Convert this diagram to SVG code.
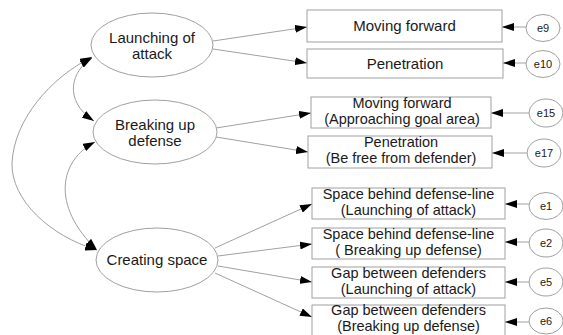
<svg xmlns="http://www.w3.org/2000/svg" width="563" height="335" viewBox="0 0 563 335">
<style>
.shape{fill:#fff;stroke:#a0a0a0;stroke-width:1}
.conn{fill:none;stroke:#a0a0a0;stroke-width:1}
.lbl{font-family:"Liberation Sans",Arial,sans-serif;font-size:15px;fill:#1a1a1a;text-anchor:middle}
.lbl2{font-family:"Liberation Sans",Arial,sans-serif;font-size:14.5px;fill:#1a1a1a;text-anchor:middle}
.err{font-family:"Liberation Sans",Arial,sans-serif;font-size:11px;fill:#1a1a1a;text-anchor:middle}
</style>
<defs>
<marker id="ah" viewBox="0 0 12 8" refX="12" refY="4" markerWidth="12" markerHeight="8" markerUnits="userSpaceOnUse" orient="auto-start-reverse">
<path d="M0,0 L12,4 L0,8 z" fill="#000"/>
</marker>
</defs>
<rect width="563" height="335" fill="#fff"/>
<g id="connectors">
<line class="conn" x1="213" y1="41" x2="307" y2="27" marker-end="url(#ah)"/>
<line class="conn" x1="213" y1="49" x2="307" y2="63" marker-end="url(#ah)"/>
<line class="conn" x1="216" y1="128" x2="311" y2="113" marker-end="url(#ah)"/>
<line class="conn" x1="216" y1="137" x2="308" y2="152" marker-end="url(#ah)"/>
<line class="conn" x1="215" y1="248" x2="312" y2="204" marker-end="url(#ah)"/>
<line class="conn" x1="218" y1="256" x2="312" y2="244" marker-end="url(#ah)"/>
<line class="conn" x1="218" y1="266" x2="312" y2="282" marker-end="url(#ah)"/>
<line class="conn" x1="215" y1="273" x2="312" y2="317" marker-end="url(#ah)"/>
<line class="conn" x1="526" y1="27" x2="502" y2="27" marker-end="url(#ah)"/>
<line class="conn" x1="526" y1="63" x2="503" y2="63" marker-end="url(#ah)"/>
<line class="conn" x1="529" y1="113" x2="491" y2="113" marker-end="url(#ah)"/>
<line class="conn" x1="527" y1="153" x2="492" y2="153" marker-end="url(#ah)"/>
<line class="conn" x1="529" y1="204" x2="505" y2="204" marker-end="url(#ah)"/>
<line class="conn" x1="529" y1="242" x2="505" y2="242" marker-end="url(#ah)"/>
<line class="conn" x1="529" y1="282" x2="505" y2="282" marker-end="url(#ah)"/>
<line class="conn" x1="529" y1="322" x2="505" y2="322" marker-end="url(#ah)"/>
<path class="conn" d="M92,58 C72,70 62,100 94,121" marker-start="url(#ah)" marker-end="url(#ah)"/>
<path class="conn" d="M92,57 C50,78 14,120 12,163 C11,200 50,236 97,250" marker-start="url(#ah)" marker-end="url(#ah)"/>
<path class="conn" d="M95,142 C60,160 50,205 97,250" marker-start="url(#ah)" marker-end="url(#ah)"/>
</g>
<g id="launching">
<ellipse class="shape" cx="152" cy="45" rx="61" ry="32"/>
<text class="lbl" x="152" y="43">Launching of</text>
<text class="lbl" x="152" y="59">attack</text>
</g>
<g id="breaking">
<ellipse class="shape" cx="155" cy="132" rx="62" ry="32"/>
<text class="lbl" x="155" y="130">Breaking up</text>
<text class="lbl" x="155" y="146">defense</text>
</g>
<g id="creating">
<ellipse class="shape" cx="157" cy="260" rx="61" ry="32"/>
<text class="lbl" x="157" y="265">Creating space</text>
</g>
<g id="box1">
<rect class="shape" x="307" y="10" width="195" height="32"/>
<text class="lbl" x="404.5" y="31">Moving forward</text>
</g>
<g id="box2">
<rect class="shape" x="307" y="49" width="196" height="29"/>
<text class="lbl" x="405" y="69">Penetration</text>
</g>
<g id="box3">
<rect class="shape" x="311" y="97" width="180" height="31"/>
<text class="lbl2" x="402" y="108">Moving forward</text>
<text class="lbl2" x="402" y="124">(Approaching goal area)</text>
</g>
<g id="box4">
<rect class="shape" x="308" y="136" width="184" height="32"/>
<text class="lbl2" x="401" y="147">Penetration</text>
<text class="lbl2" x="401" y="163">(Be free from defender)</text>
</g>
<g id="box5">
<rect class="shape" x="312" y="188" width="193" height="31"/>
<text class="lbl2" x="408.5" y="199">Space behind defense-line</text>
<text class="lbl2" x="408.5" y="215">(Launching of attack)</text>
</g>
<g id="box6">
<rect class="shape" x="312" y="228" width="193" height="31"/>
<text class="lbl2" x="408.5" y="239">Space behind defense-line</text>
<text class="lbl2" x="408.5" y="255">( Breaking up defense)</text>
</g>
<g id="box7">
<rect class="shape" x="312" y="267" width="193" height="31"/>
<text class="lbl2" x="408.5" y="278">Gap between defenders</text>
<text class="lbl2" x="408.5" y="294">(Launching of attack)</text>
</g>
<g id="box8">
<rect class="shape" x="312" y="305" width="193" height="31"/>
<text class="lbl2" x="408.5" y="315">Gap between defenders</text>
<text class="lbl2" x="408.5" y="331">(Breaking up defense)</text>
</g>
<g id="e9"><ellipse class="shape" cx="543" cy="28" rx="17" ry="13.5"/><text class="err" x="543" y="32">e9</text></g>
<g id="e10"><ellipse class="shape" cx="543" cy="64" rx="17" ry="13.5"/><text class="err" x="543" y="68">e10</text></g>
<g id="e15"><ellipse class="shape" cx="546" cy="113" rx="17" ry="14"/><text class="err" x="546" y="117">e15</text></g>
<g id="e17"><ellipse class="shape" cx="544" cy="153" rx="17" ry="14"/><text class="err" x="544" y="157">e17</text></g>
<g id="e1"><ellipse class="shape" cx="546" cy="206" rx="17" ry="13.5"/><text class="err" x="546" y="210">e1</text></g>
<g id="e2"><ellipse class="shape" cx="546" cy="243" rx="17" ry="14"/><text class="err" x="546" y="247">e2</text></g>
<g id="e5"><ellipse class="shape" cx="546" cy="282" rx="17" ry="14"/><text class="err" x="546" y="286">e5</text></g>
<g id="e6"><ellipse class="shape" cx="546" cy="321" rx="17" ry="13"/><text class="err" x="546" y="325">e6</text></g>
</svg>
